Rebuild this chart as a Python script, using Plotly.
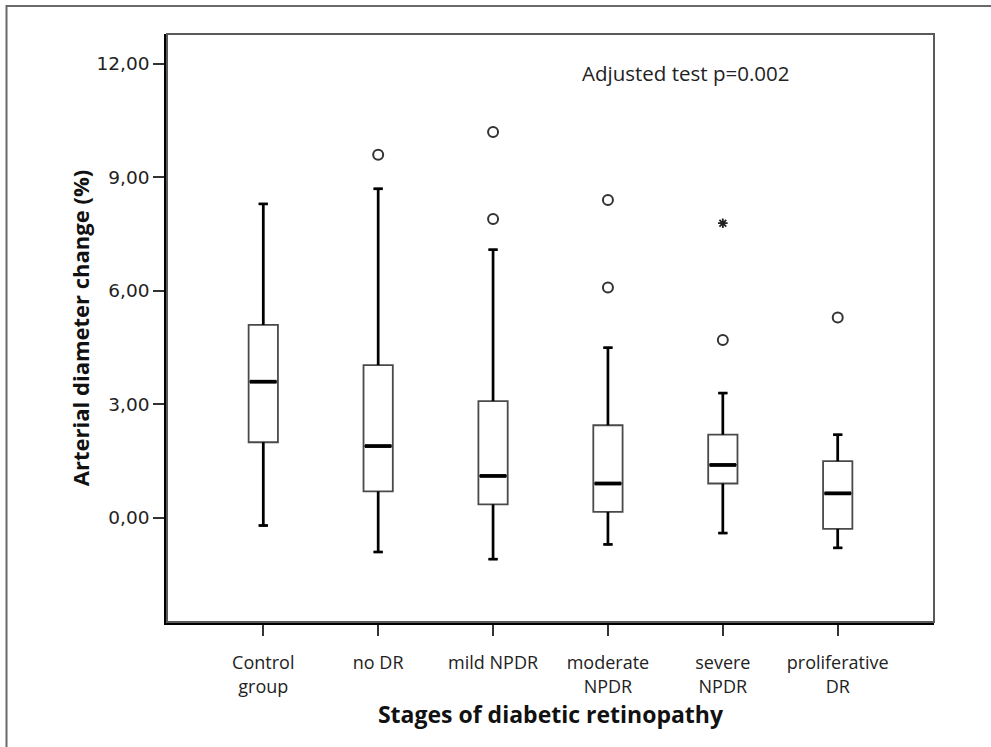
import plotly.graph_objects as go

categories = ["Control<br>group", "no DR", "mild NPDR", "moderate<br>NPDR", "severe<br>NPDR", "proliferative<br>DR"]
lower_whisker = [-0.20, -0.90, -1.09, -0.70, -0.40, -0.79]
q1 = [2.00, 0.70, 0.36, 0.16, 0.91, -0.29]
median = [3.60, 1.90, 1.11, 0.91, 1.40, 0.65]
q3 = [5.10, 4.04, 3.09, 2.45, 2.20, 1.50]
upper_whisker = [8.30, 8.70, 7.09, 4.50, 3.30, 2.20]
outlier_cat = [1, 2, 2, 3, 3, 4, 5]
outlier_val = [9.60, 10.20, 7.90, 8.40, 6.09, 4.70, 5.30]
extreme_cat = [4]
extreme_val = [7.79]
y_ticks = [0, 3, 6, 9, 12]
y_tick_labels = ["0,00", "3,00", "6,00", "9,00", "12,00"]

W, H = 991, 747
ML, MR, MT, MB = 167, 57, 34, 125
pw, ph = W - ML - MR, H - MT - MB

n = len(categories)
xs = list(range(n))
bw = 0.255
cap = 0.04

fig = go.Figure()
fig.add_trace(go.Box(
    x=xs, q1=q1, median=median, q3=q3,
    lowerfence=lower_whisker, upperfence=upper_whisker,
    width=bw, whiskerwidth=0.32, fillcolor="white",
    line=dict(color="#4a4a4a", width=1.8),
    boxpoints=False, showlegend=False, hoverinfo="skip"))

# whiskers (thicker, black)
wx, wy = [], []
for i in xs:
    wx += [i, i, None, i, i, None]
    wy += [q3[i], upper_whisker[i], None, q1[i], lower_whisker[i], None]
    wx += [i - cap, i + cap, None, i - cap, i + cap, None]
    wy += [upper_whisker[i], upper_whisker[i], None, lower_whisker[i], lower_whisker[i], None]
fig.add_trace(go.Scatter(x=wx, y=wy, mode="lines", line=dict(color="black", width=2.7),
                         showlegend=False, hoverinfo="skip"))

# medians
mx, my = [], []
for i in xs:
    mx += [i - bw / 2 + 0.012, i + bw / 2 - 0.012, None]
    my += [median[i], median[i], None]
fig.add_trace(go.Scatter(x=mx, y=my, mode="lines", line=dict(color="black", width=3.8),
                         showlegend=False, hoverinfo="skip"))

fig.add_trace(go.Scatter(x=outlier_cat, y=outlier_val, mode="markers",
                         marker=dict(symbol="circle-open", size=10, color="#333333", line=dict(width=2)),
                         showlegend=False, hoverinfo="skip"))
fig.add_trace(go.Scatter(x=extreme_cat, y=extreme_val, mode="markers",
                         marker=dict(symbol="asterisk-open", size=8, color="#222222", line=dict(width=1.8)),
                         showlegend=False, hoverinfo="skip"))

label_font = "Open Sans, sans-serif"
fig.update_layout(
    width=W, height=H,
    margin=dict(l=ML, r=MR, t=MT, b=MB, autoexpand=False),
    paper_bgcolor="white", plot_bgcolor="white",
    xaxis=dict(range=[-0.838, 5.838], tickvals=xs, ticktext=categories,
               showgrid=False, zeroline=False, showline=True, linecolor="black", linewidth=2.7,
               ticks="outside", ticklen=11, tickwidth=1.6, tickcolor="#333333",
               ticklabelstandoff=12,
               tickfont=dict(family=label_font, size=18, color="#222222"),
               title=dict(text="<b>Stages of diabetic retinopathy</b>", standoff=2,
                          font=dict(family=label_font, size=23, color="#111111"))),
    yaxis=dict(range=[-2.75, 12.79], tickvals=y_ticks, ticktext=y_tick_labels,
               showgrid=False, zeroline=False, showline=True, linecolor="black", linewidth=2.5,
               ticks="outside", ticklen=11, tickwidth=2.2, tickcolor="#333333",
               tickfont=dict(family="DejaVu Sans, sans-serif", size=18.5, color="#222222"),
               title=dict(text="<b>Arterial diameter change (%)</b>", standoff=1,
                          font=dict(family=label_font, size=22, color="#111111"))),
    annotations=[dict(text="Adjusted test p=0.002", xref="paper", yref="paper",
                      x=(685 - ML) / pw, y=(H - MB - 73) / ph, xanchor="center", yanchor="middle",
                      showarrow=False,
                      font=dict(family=label_font, size=20.5, color="#222222"))],
    shapes=[
        dict(type="rect", xref="paper", yref="paper", x0=0, x1=1, y0=0, y1=1,
             line=dict(color="#5a5a5a", width=2), layer="above"),
        dict(type="rect", xref="paper", yref="paper",
             x0=(6.5 - ML) / pw, x1=(W + 20 - ML) / pw,
             y0=(H - MB - (H + 20)) / ph, y1=(H - MB - 6) / ph,
             line=dict(color="#6a6a6a", width=2)),
    ],
)

fig.write_html("out.html", config={"displayModeBar": False},
               post_script="document.body.style.margin='0px';document.body.style.overflow='hidden';")
